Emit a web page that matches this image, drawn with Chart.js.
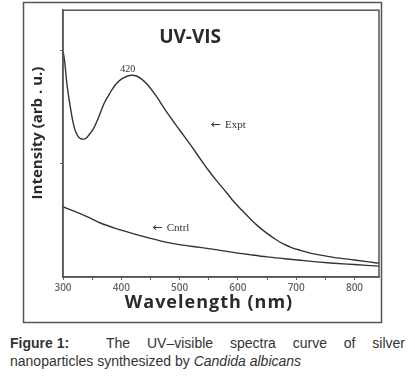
<!DOCTYPE html>
<html>
<head>
<meta charset="utf-8">
<script src="https://cdn.jsdelivr.net/npm/chart.js@4.4.1/dist/chart.umd.min.js"></script>
<style>
  body { margin: 0; background: #fff; width: 415px; height: 381px; overflow: hidden; position: relative; }
  #wrap { position: absolute; left: 0; top: 0; width: 415px; height: 326px; }
  .cap { position: absolute; left: 10px; width: 395px; font: 14px "Liberation Sans", Arial, sans-serif; color: #333; white-space: nowrap; }
  #cap1 { top: 335px; }
  #cap1 b { display: inline-block; width: 96px; }
  #cap1 span { display: inline-block; width: 299px; text-align: justify; text-align-last: justify; white-space: normal; }
  #cap2 { top: 353px; }
</style>
</head>
<body>
<div id="wrap"><canvas id="uvChart"></canvas></div>
<div class="cap" id="cap1"><b>Figure 1:</b><span>The UV–visible spectra curve of silver</span></div>
<div class="cap" id="cap2">nanoparticles synthesized by <i>Candida albicans</i></div>
<script>
// wavelengths (nm) and intensities
const exptNm = [300, 303, 306, 309, 312, 316, 320, 325, 330, 335, 340, 345, 352, 360, 370, 381, 390, 400, 410, 418,
                425, 435, 445, 460, 475, 500, 520, 535, 550, 564, 580, 592, 607, 621, 635, 650, 665, 678, 692, 707,
                721, 735, 764, 800, 842];
const exptInt = [1.00, 0.95, 0.87, 0.81, 0.76, 0.70, 0.655, 0.625, 0.612, 0.61, 0.615, 0.63, 0.655, 0.70, 0.765, 0.816, 0.85, 0.875, 0.888, 0.892,
                 0.89, 0.875, 0.85, 0.80, 0.74, 0.65, 0.58, 0.524, 0.47, 0.424, 0.375, 0.336, 0.295, 0.258, 0.224, 0.193, 0.166, 0.146, 0.130, 0.118,
                 0.108, 0.100, 0.087, 0.075, 0.061];
const ctrlNm = [300, 320, 340, 363, 390, 420, 450, 478, 505, 535, 565, 592, 620, 650, 680, 707, 735, 764, 800, 842];
const ctrlInt = [0.31, 0.29, 0.268, 0.24, 0.215, 0.192, 0.171, 0.153, 0.141, 0.131, 0.12, 0.109, 0.099, 0.089, 0.081, 0.074, 0.067, 0.061, 0.055, 0.048];

const xTicks = [300, 400, 500, 600, 700, 800];

const toPts = (xs, ys) => xs.map((x, i) => ({ x: x, y: ys[i] }));

// frame, plot box, titles and the little labels inside the plot
const decor = {
    id: 'decor',
    afterDraw(chart) {
        const { ctx, chartArea: a, scales: { x, y } } = chart;
        ctx.save();
        ctx.strokeStyle = '#555';
        ctx.lineWidth = 1.5;
        ctx.strokeRect(23.5, 2.5, 358, 320);
        ctx.strokeRect(a.left, a.top, a.right - a.left, a.bottom - a.top);

        ctx.fillStyle = '#2b2b2b';
        ctx.textAlign = 'center';
        ctx.textBaseline = 'middle';
        ctx.font = 'bold 18px "Open Sans"';
        ctx.letterSpacing = '1px';
        ctx.fillText('Wavelength (nm)', 209, 303);
        ctx.letterSpacing = '0px';
        ctx.save();
        ctx.translate(38, 133);
        ctx.rotate(-Math.PI / 2);
        ctx.font = 'bold 15px "Open Sans"';
        ctx.fillText('Intensity (arb . u.)', 0, 0);
        ctx.restore();

        ctx.font = 'bold 19px "Open Sans"';
        ctx.fillText('UV-VIS', x.getPixelForValue(518), y.getPixelForValue(1.057));

        ctx.fillStyle = '#333';
        ctx.font = '10px "Liberation Serif"';
        ctx.fillText('420', x.getPixelForValue(411), y.getPixelForValue(0.917));

        ctx.textAlign = 'left';
        const label = (txt, wl, v) => {
            const px = x.getPixelForValue(wl), py = y.getPixelForValue(v);
            ctx.font = '12px "DejaVu Sans"';
            ctx.fillText('\u2190', px, py);
            ctx.font = '11px "Liberation Serif"';
            ctx.fillText(txt, px + 14, py);
        };
        label('Expt', 554, 0.672);
        label('Cntrl', 454, 0.218);
        ctx.restore();
    }
};

new Chart(document.getElementById('uvChart'), {
    type: 'scatter',
    data: {
        datasets: [
            { label: 'Expt', data: toPts(exptNm, exptInt), showLine: true, borderColor: '#333', borderWidth: 1.4, pointRadius: 0, cubicInterpolationMode: 'monotone' },
            { label: 'Cntrl', data: toPts(ctrlNm, ctrlInt), showLine: true, borderColor: '#333', borderWidth: 1.4, pointRadius: 0, cubicInterpolationMode: 'monotone' }
        ]
    },
    options: {
        responsive: true,
        maintainAspectRatio: false,
        animation: false,
        layout: { padding: { left: 0, top: 7, right: 36, bottom: 0 } },
        plugins: { legend: { display: false }, tooltip: { enabled: false } },
        scales: {
            x: {
                type: 'linear', min: 300, max: 842,
                afterFit: s => { s.height = 49; },
                afterBuildTicks: s => { s.ticks = [300, 350, 400, 450, 500, 550, 600, 650, 700, 750, 800].map(v => ({ value: v })); },
                grid: { drawOnChartArea: false, tickLength: 3, color: '#666' },
                border: { color: '#555', width: 1.5 },
                ticks: {
                    color: '#666', padding: 2, maxRotation: 0, autoSkip: false,
                    font: { family: 'Open Sans', size: 10, weight: 600 },
                    callback: v => xTicks.includes(v) ? String(v) : ''
                }
            },
            y: {
                min: 0, max: 1.18,
                afterFit: s => { s.width = 63; },
                afterBuildTicks: s => { s.ticks = [0.5, 1.0].map(v => ({ value: v })); },
                grid: { drawOnChartArea: false, tickLength: 3, color: '#666' },
                border: { color: '#555', width: 1.5 },
                ticks: { display: true, callback: () => '' }
            }
        }
    },
    plugins: [decor]
});
</script>
</body>
</html>
